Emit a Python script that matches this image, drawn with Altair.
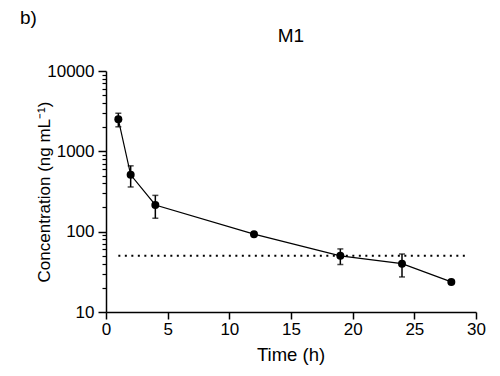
import altair as alt
import pandas as pd

# Data
time_h = [1, 2, 4, 12, 19, 24, 28]
conc = [2500, 510, 215, 93, 50, 40, 23.7]
err = [480, 150, 68, 0, 11, 12.7, 0]
lloq = [50]
lloq_start = [1]
lloq_end = [29.3]
x_ticks = [0, 5, 10, 15, 20, 25, 30]
y_major = [10, 100, 1000, 10000]
y_minor = [m * d for d in (10, 100, 1000) for m in range(2, 10)]
panel_label = ["b)"]
panel_title = ["M1"]
x_title = ["Time (h)"]
y_title = ["Concentration (ng mL\u207b\u00b9)"]

df = pd.DataFrame({"t": time_h, "c": conc, "e": err})
df["lo"] = df["c"] - df["e"]
df["hi"] = df["c"] + df["e"]
dl = pd.DataFrame({"y": lloq, "x1": lloq_start, "x2": lloq_end})

FONT = "Liberation Sans"
xs = alt.Scale(domain=[0, 30], nice=False)
ys = alt.Scale(type="log", domain=[10, 10000], nice=False)

x_axis = alt.Axis(values=x_ticks, title=None, tickSize=7, labelFontSize=17,
                  labelFont=FONT, grid=False, domainColor="black", tickColor="black",
                  domainWidth=1.5, tickWidth=1.5, labelColor="black", labelPadding=2,
                  labelFlush=False)
y_axis = alt.Axis(values=y_major, format="d", title=None,
                  tickSize=8, labelFontSize=17, labelFont=FONT, grid=False,
                  domainColor="black", tickColor="black", domainWidth=1.5, tickWidth=1.5,
                  labelColor="black", labelPadding=4, orient="left", labelFlush=False)
y_minor_axis = alt.Axis(values=y_minor, labels=False, title=None, tickSize=4, domain=False,
                        grid=False, tickColor="black", tickWidth=1.2, orient="left")

base = alt.Chart(df)

line = base.mark_line(color="black", strokeWidth=1.2).encode(
    x=alt.X("t:Q", scale=xs, axis=x_axis),
    y=alt.Y("c:Q", scale=ys, axis=y_axis),
)
minor = alt.Chart(dl).mark_rule(color="black", strokeWidth=2, strokeDash=[2, 4.5]).encode(
    x=alt.X("x1:Q", scale=xs, axis=None),
    x2="x2:Q",
    y=alt.Y("y:Q", scale=ys, axis=y_minor_axis),
)
bars = base.mark_rule(color="black", strokeWidth=1.5).encode(
    x=alt.X("t:Q", scale=xs, axis=None),
    y=alt.Y("lo:Q", scale=ys, axis=None),
    y2="hi:Q",
)
caps_lo = base.transform_filter("datum.e > 0").mark_tick(
    color="black", orient="horizontal", size=6, thickness=1.5).encode(
    x=alt.X("t:Q", scale=xs, axis=None),
    y=alt.Y("lo:Q", scale=ys, axis=None),
)
caps_hi = base.transform_filter("datum.e > 0").mark_tick(
    color="black", orient="horizontal", size=6, thickness=1.5).encode(
    x=alt.X("t:Q", scale=xs, axis=None),
    y=alt.Y("hi:Q", scale=ys, axis=None),
)
points = base.mark_point(filled=True, color="black", size=64, opacity=1).encode(
    x=alt.X("t:Q", scale=xs, axis=None),
    y=alt.Y("c:Q", scale=ys, axis=None),
)


def text_layer(vals, x, y, size, angle=0):
    return alt.Chart(pd.DataFrame({"s": vals})).mark_text(
        font=FONT, fontSize=size, fontWeight="normal", align="center",
        baseline="alphabetic", color="black", angle=angle).encode(
        x=alt.value(x), y=alt.value(y), text="s:N")


label = alt.Chart(pd.DataFrame({"s": panel_label})).mark_text(
    font=FONT, fontSize=19, align="left", baseline="alphabetic", color="black").encode(
    x=alt.value(-86), y=alt.value(-47), text="s:N")
title = text_layer(panel_title, 185, -29, 19)
xt = text_layer(x_title, 185, 290, 18.5)
yt = text_layer(y_title, -56, 121, 17, angle=270)

chart = alt.layer(line, minor, bars, caps_lo, caps_hi, points, label, title, xt, yt).resolve_axis(
    y="independent", x="independent"
).properties(
    width=370, height=241,
    autosize="none",
    padding={"left": 98, "top": 63, "right": 16, "bottom": 56},
).configure_view(stroke=None)

chart.save("out.html", embed_options={"renderer": "svg", "actions": False})
